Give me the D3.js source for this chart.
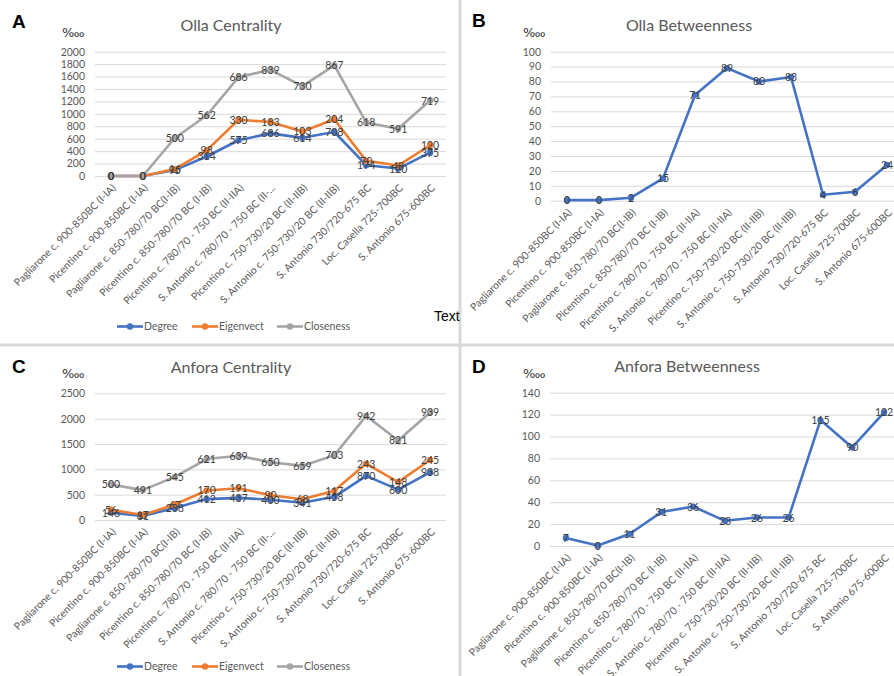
<!DOCTYPE html>
<html><head><meta charset="utf-8">
<script src="https://cdn.jsdelivr.net/npm/d3@7/dist/d3.min.js"></script>
<style>
html,body{margin:0;padding:0;background:#fff;}
svg{display:block;}
</style></head>
<body>
<svg id="chart" width="894" height="676"></svg>
<script>
// ---------- DATA ----------
const categories = [
  "Pagliarone c. 900-850BC (I-IA)",
  "Picentino c. 900-850BC (I-IA)",
  "Pagliarone c. 850-780/70 BC(I-IB)",
  "Picentino c. 850-780/70 BC (I-IB)",
  "Picentino c. 780/70 - 750 BC (II-IIA)",
  "S. Antonio c. 780/70 - 750 BC (II-IIA)",
  "Picentino c. 750-730/20 BC (II-IIB)",
  "S. Antonio c. 750-730/20 BC (II-IIB)",
  "S. Antonio 730/720-675 BC",
  "Loc. Casella 725-700BC",
  "S. Antonio 675-600BC"
];
const centralityTickLabels = [
  "Pagliarone c. 900-850BC (I-IA)",
  "Picentino c. 900-850BC (I-IA)",
  "Pagliarone c. 850-780/70 BC(I-IB)",
  "Picentino c. 850-780/70 BC (I-IB)",
  "Picentino c. 780/70 - 750 BC (II-IIA)",
  "S. Antonio c. 780/70 - 750 BC (II-...",
  "Picentino c. 750-730/20 BC (II-IIB)",
  "S. Antonio c. 750-730/20 BC (II-IIB)",
  "S. Antonio 730/720-675 BC",
  "Loc. Casella 725-700BC",
  "S. Antonio 675-600BC"
];
const seriesNames = ["Degree", "Eigenvect", "Closeness"];

const ollaDegree    = [0, 0, 95, 314, 575, 686, 614, 708, 174, 120, 375];
const ollaEigen     = [0, 0, 16, 98, 330, 183, 103, 204, 70, 48, 120];
const ollaCloseness = [0, 0, 500, 562, 686, 839, 730, 867, 618, 591, 719];
const ollaBetweenness = [0.4, 0.4, 2, 15, 71, 89, 80, 83, 4, 6, 24];

const anforaDegree    = [146, 81, 238, 412, 437, 400, 341, 458, 870, 600, 938];
const anforaEigen     = [56, 17, 67, 170, 191, 90, 68, 117, 243, 148, 245];
const anforaCloseness = [500, 491, 545, 621, 639, 650, 659, 703, 942, 821, 939];
const anforaBetweenness = [7.4, 0.4, 11, 31, 36, 23, 26, 26, 115, 90, 122];

const ollaCentralityTicks = [0,200,400,600,800,1000,1200,1400,1600,1800,2000];
const ollaBetweennessTicks = [0,10,20,30,40,50,60,70,80,90,100];
const anforaCentralityTicks = [0,500,1000,1500,2000,2500];
const anforaBetweennessTicks = [0,20,40,60,80,100,120,140];

// ---------- STYLE ----------
const colors = ["#4472C4", "#ED7D31", "#A5A5A5"];
const FONT = "Lato, 'Open Sans', sans-serif";
const svg = d3.select("#chart");
const fmt = d3.format(".0f");

// separators
svg.append("line").attr("x1",460).attr("x2",460).attr("y1",0).attr("y2",676)
  .attr("stroke","#d9d9d9").attr("stroke-width",3);
svg.append("line").attr("x1",0).attr("x2",894).attr("y1",345).attr("y2",345)
  .attr("stroke","#d9d9d9").attr("stroke-width",3);

svg.append("text").attr("x",434).attr("y",321).attr("font-family","'Liberation Sans', Arial, sans-serif")
  .attr("font-size",14).attr("fill","#000").text("Text");

function drawPanel(cfg) {
  const g = svg.append("g");
  const x = d3.scalePoint().domain(d3.range(categories.length)).range(cfg.xr).padding(0.5);
  const y = d3.scaleLinear().domain(cfg.domain).range(cfg.yr);

  // letter
  g.append("text").attr("x", cfg.letterX).attr("y", cfg.letterY)
    .attr("font-family","'Liberation Sans', Arial, sans-serif").attr("font-weight","bold")
    .attr("font-size",19).attr("fill","#000").text(cfg.letter);
  // title
  g.append("text").attr("x", cfg.titleX).attr("y", cfg.titleY).attr("text-anchor","middle")
    .attr("font-family",FONT).attr("font-size",16).attr("fill","#595959").text(cfg.title);
  // unit
  g.append("text").attr("x", cfg.unitX).attr("y", cfg.unitY)
    .attr("font-family","'DejaVu Sans', sans-serif").attr("font-size",13).attr("fill","#333").text("\u2031");

  // grid + y axis
  const yAxis = d3.axisLeft(y).tickValues(cfg.ticks).tickSize(-(cfg.xr[1]-cfg.xr[0])).tickPadding(10).tickFormat(d3.format("d"));
  const ya = g.append("g").attr("transform",`translate(${cfg.xr[0]},0)`).call(yAxis);
  ya.select(".domain").remove();
  ya.selectAll(".tick line").attr("stroke","#d9d9d9").attr("stroke-width",1);
  ya.selectAll(".tick text").attr("font-family",FONT).attr("font-size",10.5).attr("fill","#595959");

  // x axis labels
  const xa = g.append("g");
  xa.selectAll("text").data(cfg.tickLabels).join("text")
    .attr("transform",(d,i)=>`translate(${x(i)+3},${cfg.yr[0]+10}) rotate(-45)`)
    .attr("text-anchor","end").attr("dy","0.35em")
    .attr("font-family",FONT).attr("font-size",10.4).attr("fill","#595959").text(d=>d);

  // stacked series
  const stacked = [];
  let base = categories.map(()=>0);
  cfg.series.forEach((s)=>{
    const vals = s.map((v,i)=> base[i] + v);
    stacked.push(vals);
    base = vals;
  });
  const line = d3.line().x((d,i)=>x(i)).y(d=>y(d));
  stacked.forEach((vals,k)=>{
    g.append("path").datum(vals).attr("d",line).attr("fill","none")
      .attr("stroke",colors[k]).attr("stroke-width",2.6).attr("stroke-linejoin","round");
    g.selectAll(null).data(vals).join("circle")
      .attr("cx",(d,i)=>x(i)).attr("cy",d=>y(d)).attr("r",3.2).attr("fill",colors[k]);
  });
  stacked.forEach((vals,k)=>{
    g.selectAll(null).data(vals).join("text")
      .attr("x",(d,i)=>x(i)).attr("y",d=>y(d)).attr("dy","0.38em").attr("text-anchor","middle")
      .attr("font-family",FONT).attr("font-size",10.5).attr("fill","#404040")
      .text((d,i)=>fmt(cfg.series[k][i]));
  });

  // legend
  if (cfg.legendY) {
    const items = cfg.legendX;
    seriesNames.forEach((nm,k)=>{
      const lx = items[k];
      g.append("line").attr("x1",lx).attr("x2",lx+26).attr("y1",cfg.legendY).attr("y2",cfg.legendY)
        .attr("stroke",colors[k]).attr("stroke-width",2.6);
      g.append("circle").attr("cx",lx+13).attr("cy",cfg.legendY).attr("r",3.2).attr("fill",colors[k]);
      g.append("text").attr("x",lx+27).attr("y",cfg.legendY).attr("dy","0.35em")
        .attr("font-family",FONT).attr("font-size",10.5).attr("fill","#595959").text(nm);
    });
  }
}

drawPanel({letter:"A", letterX:12, letterY:28, title:"Olla Centrality", titleX:231, titleY:31,
  unitX:62, unitY:37, xr:[95,446], yr:[176,51.7], domain:[0,2000], ticks:ollaCentralityTicks,
  tickLabels:centralityTickLabels, series:[ollaDegree, ollaEigen, ollaCloseness],
  legendY:326.5, legendX:[117,192,277]});
drawPanel({letter:"B", letterX:472, letterY:27, title:"Olla Betweenness", titleX:689, titleY:31,
  unitX:523, unitY:37, xr:[551,903], yr:[200.7,51.7], domain:[0,100], ticks:ollaBetweennessTicks,
  tickLabels:categories, series:[ollaBetweenness]});
drawPanel({letter:"C", letterX:12, letterY:373, title:"Anfora Centrality", titleX:231, titleY:373,
  unitX:62, unitY:378, xr:[95,446], yr:[520,393.3], domain:[0,2500], ticks:anforaCentralityTicks,
  tickLabels:centralityTickLabels, series:[anforaDegree, anforaEigen, anforaCloseness],
  legendY:666.5, legendX:[117,192,277]});
drawPanel({letter:"D", letterX:472, letterY:373, title:"Anfora Betweenness", titleX:687, titleY:372,
  unitX:523, unitY:378, xr:[550,900], yr:[546,392.7], domain:[0,140], ticks:anforaBetweennessTicks,
  tickLabels:categories, series:[anforaBetweenness]});
</script>
</body></html>
